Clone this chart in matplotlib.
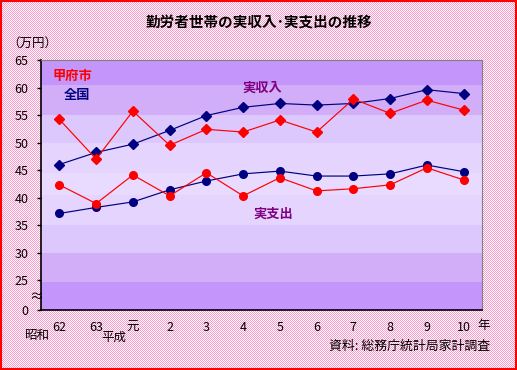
import numpy as np
import matplotlib
matplotlib.use('Agg')
import matplotlib.pyplot as plt
from matplotlib.patches import Rectangle
from matplotlib.colors import to_rgb

plt.rcParams['font.family'] = ['Noto Sans CJK JP', 'DejaVu Sans']

years = ['62', '63', '元', '2', '3', '4', '5', '6', '7', '8', '9', '10']
# 実収入
zenkoku_income = [46.0, 48.2, 49.7, 52.2, 54.9, 56.4, 57.1, 56.8, 57.1, 58.0, 59.6, 58.9]
kofu_income = [54.2, 47.0, 55.7, 49.5, 52.4, 51.9, 54.1, 51.9, 57.9, 55.3, 57.7, 55.9]
# 実支出
zenkoku_spend = [37.1, 38.2, 39.2, 41.4, 43.0, 44.3, 44.8, 43.9, 43.9, 44.3, 45.9, 44.7]
kofu_spend = [42.3, 38.9, 44.1, 40.3, 44.5, 40.3, 43.6, 41.2, 41.6, 42.3, 45.4, 43.2]

y_bottom = 19.55
y_ticks = [y_bottom, 25, 30, 35, 40, 45, 50, 55, 60, 65]
y_labels = ['0', '25', '30', '35', '40', '45', '50', '55', '60', '65']

W, H = 517, 370
fig = plt.figure(figsize=(W / 100, H / 100), dpi=100)

# checkered pink background
pink = np.array(to_rgb('#ff99cc'))
yy, xx = np.mgrid[0:H, 0:W]
checker = ((xx + yy) % 2 == 0)[..., None]
bg = np.where(checker, pink, np.ones(3))
fig.figimage(bg, 0, 0, zorder=0)
fig.patches.append(Rectangle((0.001, 0.002), 0.997, 0.996, transform=fig.transFigure,
                             fill=False, edgecolor='red', lw=1.5, zorder=1))

ax = fig.add_axes([41 / W, 1 - 310 / H, 441 / W, 250 / H])
ax.set_zorder(2)
ax.set_facecolor('none')

# banded purple gradient inside plot area
band_edges = [y_bottom, 24.6, 30, 35, 40.5, 44.5, 50, 55, 60.5, 65]
band_cols = ['#c495fa', '#d2aef9', '#dcc8fc', '#e4d4fe', '#e9dbff',
             '#e4d4fe', '#dcc8fc', '#d2aef9', '#c495fa']
for lo, hi, c in zip(band_edges[:-1], band_edges[1:], band_cols):
    ax.axhspan(lo, hi, color=c, lw=0, zorder=0)

x = np.arange(len(years))
navy = '#000080'
ax.plot(x, zenkoku_income, color=navy, lw=0.85, marker='D', ms=5, zorder=3)
ax.plot(x, kofu_income, color='red', lw=0.85, marker='D', ms=5, zorder=3)
ax.plot(x, zenkoku_spend, color=navy, lw=0.85, marker='o', ms=5.5, zorder=3)
ax.plot(x, kofu_spend, color='red', lw=0.85, marker='o', ms=5.5, zorder=3)

ax.set_xlim(-0.5, len(years) - 0.5)
ax.set_ylim(y_bottom, 65)
ax.set_yticks(y_ticks)
ax.set_yticklabels(y_labels, fontsize=9)
ax.set_xticks(x)
ax.set_xticklabels(years, fontsize=9)
ax.tick_params(axis='x', length=0, pad=8)
ax.tick_params(axis='y', length=3, width=1, pad=6, direction='out')
for s in ['top', 'right']:
    ax.spines[s].set_color('#808080')
for s in ['left', 'bottom']:
    ax.spines[s].set_color('black')
    ax.spines[s].set_linewidth(1.2)

ax.text(0.027, 0.935, '甲府市', transform=ax.transAxes, color='red',
        fontsize=9.5, fontweight='bold', va='center')
ax.text(0.052, 0.86, '全国', transform=ax.transAxes, color=navy,
        fontsize=9.5, fontweight='bold', va='center')
ax.text(0.457, 0.89, '実収入', transform=ax.transAxes, color='#800080',
        fontsize=9.5, fontweight='bold', va='center')
ax.text(0.482, 0.385, '実支出', transform=ax.transAxes, color='#800080',
        fontsize=9.5, fontweight='bold', va='center')

fig.text(0.5, 1 - 22 / H, '勤労者世帯の実収入･実支出の推移', ha='center', va='center',
         fontsize=10.5, fontweight='bold')
fig.text(7 / W, 1 - 43 / H, '（万円）', ha='left', va='center', fontsize=9)
fig.text(36 / W, 1 - 297 / H, '≈', ha='center', va='center', fontsize=10)
fig.text(37 / W, 1 - 335 / H, '昭和', ha='center', va='center', fontsize=9)
fig.text(114 / W, 1 - 337 / H, '平成', ha='center', va='center', fontsize=9)
fig.text(484 / W, 1 - 325 / H, '年', ha='center', va='center', fontsize=9)
fig.text(490 / W, 1 - 346 / H, '資料: 総務庁統計局家計調査', ha='right', va='center', fontsize=9.3)

fig.savefig('out.png', dpi=100)
